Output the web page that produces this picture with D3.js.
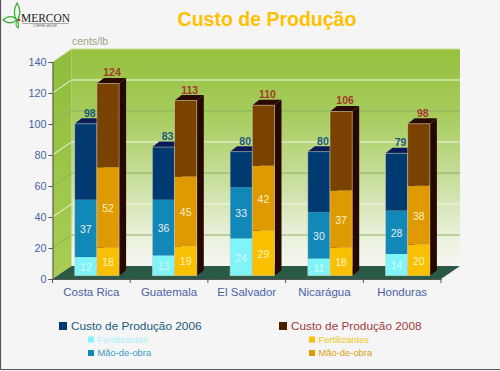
<!DOCTYPE html>
<html>
<head>
<meta charset="utf-8">
<script src="https://cdn.jsdelivr.net/npm/d3@7"></script>
<style>
    html, body { margin: 0; padding: 0; background: #f5f5f5; overflow: hidden; }
    svg { display: block; font-family: "Liberation Sans", Arial, sans-serif; }
    .axis text { font-family: "Liberation Sans", Arial, sans-serif; font-size: 10.8px; fill: #4a62a4; }
</style>
</head>
<body>
<div id="chart"></div>
<script>
const countries = ['Costa Rica', 'Guatemala', 'El Salvador', 'Nicarágua', 'Honduras'];
const yTicks = [0, 20, 40, 60, 80, 100, 120, 140];

// cents/lb
const fert2006 = [12, 13, 24, 11, 14];
const labor2006 = [37, 36, 33, 30, 28];
const total2006 = [98, 83, 80, 80, 79];
const fert2008 = [18, 19, 29, 18, 20];
const labor2008 = [52, 45, 42, 37, 38];
const total2008 = [124, 113, 110, 106, 98];

const width = 500, height = 371;
const x0 = 52.5, x1 = 441, yBase = 279, yTop = 62;
const depthX = 19, depthY = 13;       // wall depth
const barDepthX = 7, barDepthY = 5.5; // bar depth
const barW = 22.2, barPad = 22.2, barLift = 3.3;

const svg = d3.select('#chart').append('svg')
    .attr('width', width)
    .attr('height', height);

const xScale = d3.scaleBand().domain(countries).range([x0, x1]);
const yScale = d3.scaleLinear().domain([0, 140]).range([yBase, yTop]);
const line = pts => 'M' + pts.map(p => p.join(',')).join('L') + 'Z';

// frame of the picture
svg.append('rect').attr('width', width).attr('height', height).attr('fill', '#f5f5f5');
svg.append('path')
    .attr('d', `M0.5,0V${height - 1.5}H${width}`)
    .attr('fill', 'none')
    .attr('stroke', '#555')
    .attr('stroke-width', 1.2);

// gradients for the walls
const defs = svg.append('defs');
const wallGrad = defs.append('linearGradient')
    .attr('id', 'wall')
    .attr('x1', 0).attr('y1', 0).attr('x2', 0).attr('y2', 1);
[[0, '#95c13f'], [0.3, '#a6cc5c'], [0.6, '#c8de9c'], [0.85, '#e8f0d8'], [1, '#f6f6f3']]
    .forEach(([o, c]) => wallGrad.append('stop').attr('offset', o).attr('stop-color', c));
const sideGrad = defs.append('linearGradient')
    .attr('id', 'side')
    .attr('x1', 0).attr('y1', 0).attr('x2', 0).attr('y2', 1);
[[0, '#8fbd3c'], [1, '#a9cd55']]
    .forEach(([o, c]) => sideGrad.append('stop').attr('offset', o).attr('stop-color', c));

// walls and floor
svg.append('rect')
    .attr('x', x0 + depthX).attr('y', yTop - depthY)
    .attr('width', x1 - x0).attr('height', yBase - yTop)
    .attr('fill', 'url(#wall)');
svg.append('path')
    .attr('d', line([[x0, yBase], [x0 + depthX, yBase - depthY], [x0 + depthX, yTop - depthY], [x0, yTop]]))
    .attr('fill', 'url(#side)');
svg.append('path')
    .attr('d', line([[x0, yBase], [x0 + depthX, yBase - depthY], [x1 + depthX, yBase - depthY], [x1, yBase]]))
    .attr('fill', '#2a5a45');

// grid lines alternate white and green
yTicks.filter(d => d > 0).forEach((d, i) => {
    const y = yScale(d);
    const col = d === 140 ? '#cfe3a0' : (i % 2 === 0 ? '#8fb062' : '#f2f7e6');
    svg.append('path')
        .attr('d', `M${x0},${y}L${x0 + depthX},${y - depthY}H${x1 + depthX}`)
        .attr('fill', 'none')
        .attr('stroke', col)
        .attr('stroke-width', 1);
});

// axes
const yAxis = d3.axisLeft(yScale).tickValues(yTicks).tickSize(4).tickPadding(2);
const yAxisG = svg.append('g')
    .attr('class', 'axis')
    .attr('transform', `translate(${x0},0)`)
    .call(yAxis);
yAxisG.selectAll('line, path').attr('stroke', '#555');

const xAxis = d3.axisBottom(xScale).tickSize(0).tickPadding(9);
const xAxisG = svg.append('g')
    .attr('class', 'axis')
    .attr('transform', `translate(0,${yBase})`)
    .call(xAxis);
xAxisG.select('.domain').attr('stroke', '#555');
xAxisG.selectAll('text').attr('dx', 0).style('font-size', '11.5px');
svg.selectAll('.edge')
    .data(countries.concat('end'))
    .join('line')
    .attr('class', 'edge')
    .attr('x1', d => d === 'end' ? x1 : xScale(d))
    .attr('x2', d => d === 'end' ? x1 : xScale(d))
    .attr('y1', yBase)
    .attr('y2', yBase + 4)
    .attr('stroke', '#555');

// one stacked bar per year
const drawBars = (fert, labor, total, opts) => {
    const rows = countries.map((c, i) => ({
        country: c,
        fert: fert[i],
        labor: labor[i],
        rest: total[i] - fert[i] - labor[i],
        total: total[i]
    }));
    const stacked = d3.stack().keys(['fert', 'labor', 'rest'])(rows);
    const left = d => xScale(d.country) + barPad + opts.offset;
    const g = svg.append('g').attr('transform', `translate(0,${-barLift})`);

    // side and top faces
    g.selectAll('.side').data(rows).join('path')
        .attr('d', d => {
            const r = left(d) + barW, t = yScale(d.total);
            return line([[r, yBase], [r + barDepthX, yBase - barDepthY],
                [r + barDepthX, t - barDepthY], [r, t]]);
        })
        .attr('fill', '#270800');
    g.selectAll('.top').data(rows).join('path')
        .attr('d', d => {
            const l = left(d), t = yScale(d.total);
            return line([[l, t], [l + barDepthX, t - barDepthY],
                [l + barW + barDepthX, t - barDepthY], [l + barW, t]]);
        })
        .attr('fill', opts.topColor);

    stacked.forEach((layer, k) => {
        g.selectAll(`.seg${k}`).data(layer).join('rect')
            .attr('x', d => left(d.data))
            .attr('y', d => yScale(d[1]))
            .attr('width', barW)
            .attr('height', d => yScale(d[0]) - yScale(d[1]))
            .attr('fill', opts.colors[k]);

        if (k < 2) {
            g.selectAll(`.lab${k}`).data(layer).join('text')
                .attr('x', d => left(d.data) + barW / 2)
                .attr('y', d => (yScale(d[0]) + yScale(d[1])) / 2 + 4.5)
                .attr('text-anchor', 'middle')
                .attr('font-size', 10.5)
                .attr('fill', opts.labelColors[k])
                .text(d => d[1] - d[0]);
        }
    });

    // pale outline round the front
    g.selectAll('.outline').data(rows).join('rect')
        .attr('x', d => left(d))
        .attr('y', d => yScale(d.total))
        .attr('width', barW)
        .attr('height', d => yBase - yScale(d.total))
        .attr('fill', 'none')
        .attr('stroke', '#d8d4c0')
        .attr('stroke-opacity', 0.6)
        .attr('stroke-width', 0.8);

    g.selectAll('.total').data(rows).join('text')
        .attr('x', d => left(d) + barW / 2 + 4)
        .attr('y', d => yScale(d.total) - 7)
        .attr('text-anchor', 'middle')
        .attr('font-size', 10.5)
        .attr('font-weight', 'bold')
        .attr('fill', opts.totalColor)
        .text(d => d.total);
};

drawBars(fert2006, labor2006, total2006, {
    offset: 0,
    colors: ['#80f4f8', '#1288b8', '#003a70'],
    labelColors: ['#d8f8fa', '#e4eef4'],
    topColor: '#0a1a58',
    totalColor: '#1a5a7c'
});
drawBars(fert2008, labor2008, total2008, {
    offset: barW,
    colors: ['#f8c000', '#de9a00', '#7a4200'],
    labelColors: ['#fff2c4', '#fff2c4'],
    topColor: '#2a0a00',
    totalColor: '#a33a2a'
});

// title and unit
svg.append('text')
    .attr('x', 267).attr('y', 26)
    .attr('text-anchor', 'middle')
    .attr('font-size', 19.5)
    .attr('font-weight', 'bold')
    .attr('fill', '#ffc000')
    .text('Custo de Produção');
svg.append('text')
    .attr('x', 72).attr('y', 45)
    .attr('font-size', 10.5)
    .attr('fill', '#a3a382')
    .text('cents/lb');

// legend
const legendMain = [
    {x: 59, label: 'Custo de Produção 2006', color: '#003a70', text: '#1a5a7c'},
    {x: 279, label: 'Custo de Produção 2008', color: '#4a2000', text: '#a33a3a'}
];
const legendSub = [
    {x: 88, y: 339.5, label: 'Fertilizantes', color: '#80f4f8', text: '#a8f2f6'},
    {x: 88, y: 353, label: 'Mão-de-obra', color: '#1288b8', text: '#3a9ac4'},
    {x: 309, y: 339.5, label: 'Fertilizantes', color: '#f8c000', text: '#f0c820'},
    {x: 309, y: 353, label: 'Mão-de-obra', color: '#de9a00', text: '#dea010'}
];
legendMain.forEach(d => {
    svg.append('rect')
        .attr('x', d.x).attr('y', 322)
        .attr('width', 8).attr('height', 8)
        .attr('fill', d.color);
    svg.append('text')
        .attr('x', d.x + 12).attr('y', 329.5)
        .attr('font-size', 11.8)
        .attr('fill', d.text)
        .text(d.label);
});
legendSub.forEach(d => {
    svg.append('rect')
        .attr('x', d.x).attr('y', d.y - 3)
        .attr('width', 6).attr('height', 6)
        .attr('fill', d.color);
    svg.append('text')
        .attr('x', d.x + 9.5).attr('y', d.y + 3)
        .attr('font-size', 9.4)
        .attr('fill', d.text)
        .text(d.label);
});

// logo
const logo = svg.append('g');
logo.append('path')
    .attr('d', 'M17,3C13,10 14,17 17,21C20,16 21,9 17,3Z')
    .attr('fill', 'none').attr('stroke', '#3cb034').attr('stroke-width', 1.3);
logo.append('path')
    .attr('d', 'M3,20C8,15 14,16 17,20C13,23 8,24 3,20Z')
    .attr('fill', 'none').attr('stroke', '#3cb034').attr('stroke-width', 1.3);
logo.append('path')
    .attr('d', 'M17,21C15,24 16,26 18,28C19,25 19,23 17,21Z')
    .attr('fill', 'none').attr('stroke', '#3cb034').attr('stroke-width', 1.1);
logo.append('circle').attr('cx', 19).attr('cy', 20).attr('r', 1.3).attr('fill', '#c02040');
logo.append('text')
    .attr('x', 21).attr('y', 21.5)
    .attr('font-family', '"Liberation Serif", serif')
    .attr('font-size', 12.5)
    .attr('textLength', 49)
    .attr('lengthAdjust', 'spacingAndGlyphs')
    .attr('fill', '#1a1a1a')
    .text('MERCON');
logo.append('line')
    .attr('x1', 22).attr('x2', 69).attr('y1', 23.5).attr('y2', 23.5)
    .attr('stroke', '#aaa');
logo.append('text')
    .attr('x', 45).attr('y', 27)
    .attr('text-anchor', 'middle')
    .attr('font-size', 3)
    .attr('fill', '#555')
    .text('COFFEE GROUP');
</script>
</body>
</html>
